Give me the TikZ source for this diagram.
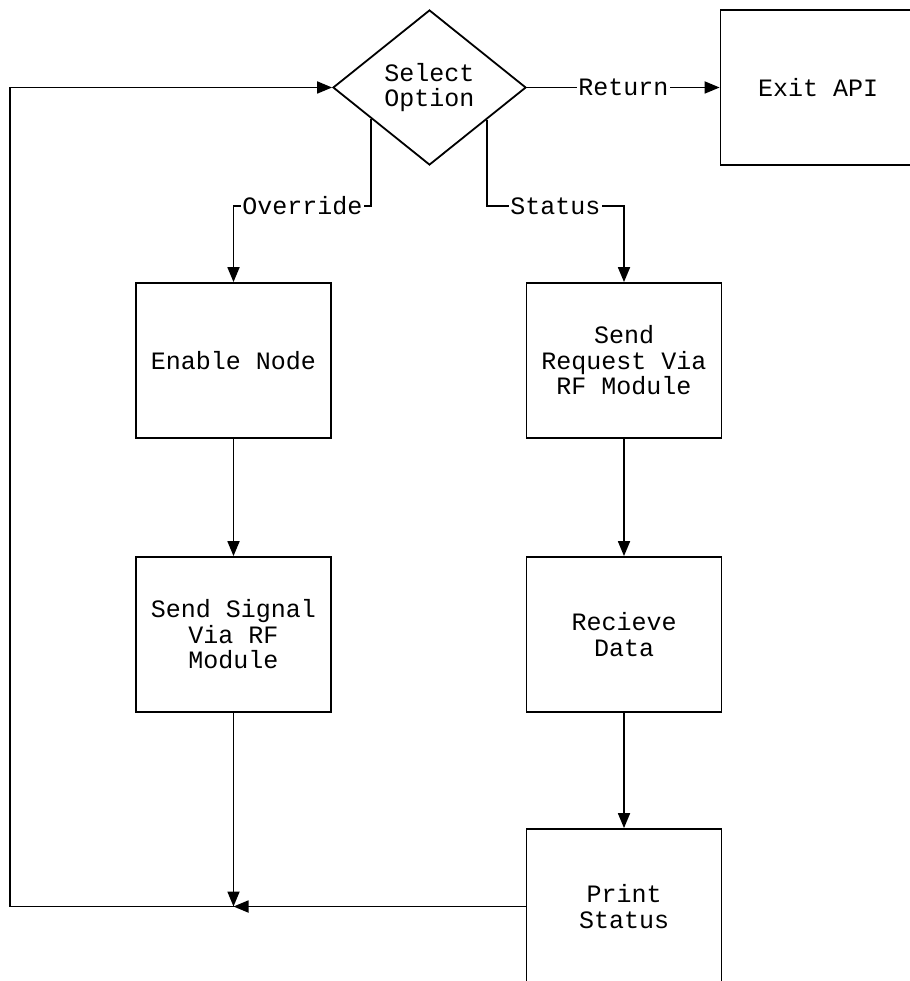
\documentclass[tikz,border=0pt]{standalone}
\usepackage{fontspec}
\setmainfont{Liberation Mono}
\usetikzlibrary{shapes.geometric,arrows.meta,calc}
\begin{document}
\begin{tikzpicture}[x=1pt,y=-1pt,
  line width=1.8pt,
  every node/.style={font=\fontsize{25}{25.5}\selectfont, align=center},
  box/.style={draw, rectangle, minimum width=195pt, minimum height=155pt, inner sep=0pt},
  decision/.style={draw, diamond, minimum width=193pt, minimum height=155pt, inner sep=0pt},
  lbl/.style={fill=white, inner sep=1.5pt},
  arr/.style={-{Triangle[length=15pt,width=12pt]}}]
\useasboundingbox (0,0) rectangle (909,981);

% decision and terminal
\node[decision] (sel) at (429.5,87.5) {Select\\Option};
\node[box] (exit) at (818,87.5) {Exit API};

% override branch
\node[box] (enable) at (233.5,360.5) {Enable Node};
\node[box] (signal) at (233.5,634.5) {Send Signal\\Via RF\\Module};

% status branch
\node[box] (request) at (624,360.5) {Send\\Request Via\\RF Module};
\node[box] (recv) at (624,634.5) {Recieve\\Data};
\node[box] (print) at (624,906.5) {Print\\Status};

% points where the branches leave the decision
\coordinate (ovout) at ($(sel.west)!0.4!(sel.south)$);
\coordinate (stout) at ($(sel.east)!0.41!(sel.south)$);
\coordinate (join) at (signal.south |- print.west);
\coordinate (back) at (10,906.5);

% connectors
\draw[arr] (sel.east) -- node[lbl]{Return} (exit.west);
\draw[arr] (ovout) |- node[lbl, pos=0.75]{Override} ($(enable.north)+(0,-76)$) -- (enable.north);
\draw[arr] (stout) |- node[lbl, pos=0.75]{Status} ($(request.north)+(0,-76)$) -- (request.north);
\draw[arr] (enable) -- (signal);
\draw[arr] (request) -- (recv);
\draw[arr] (recv) -- (print);
\draw[arr] (signal.south) -- (join);
\draw[arr] (print.west) -- (join);
\draw[arr] (join) -- (back) |- (sel.west);
\end{tikzpicture}
\end{document}
